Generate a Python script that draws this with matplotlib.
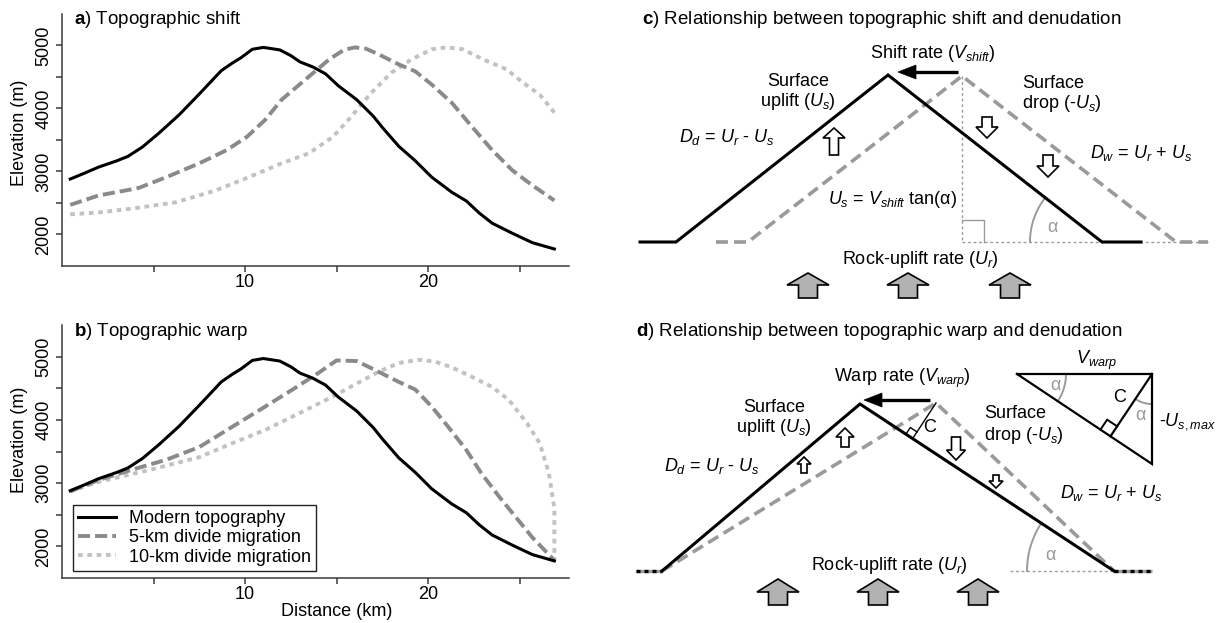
import numpy as np
import matplotlib
matplotlib.use("Agg")
import matplotlib.pyplot as plt
from matplotlib.patches import Polygon

plt.rcParams['font.family'] = ['Liberation Sans', 'DejaVu Sans']
plt.rcParams['mathtext.fontset'] = 'custom'
plt.rcParams['mathtext.rm'] = 'Liberation Sans'
plt.rcParams['mathtext.it'] = 'Liberation Sans:italic'
plt.rcParams['mathtext.bf'] = 'Liberation Sans:bold'
plt.rcParams['font.size'] = 13

# ---------------- elevation profiles (distance km, elevation m) ----------------
modern_km = [0.45, 1.2, 2.0, 3.0, 3.6, 4.4, 5.3, 6.4, 7.5, 8.7, 9.3, 9.8, 10.4, 11.0,
             11.9, 12.5, 13.0, 13.7, 14.4, 15.1, 16.1, 17.0, 17.5, 18.4, 19.3, 20.2,
             21.3, 22.1, 22.8, 23.5, 24.6, 25.7, 26.9]
modern_m = [2880, 2970, 3070, 3170, 3240, 3390, 3610, 3900, 4230, 4600, 4720, 4810,
            4940, 4970, 4930, 4840, 4740, 4660, 4550, 4360, 4140, 3880, 3700, 3400,
            3170, 2910, 2670, 2530, 2340, 2180, 2020, 1870, 1770]

shift5_km = [0.45, 2.0, 3.5, 4.2, 5.7, 7.5, 9.0, 10.1, 11.1, 12.0, 13.3, 14.6, 15.4,
             16.0, 16.6, 17.3, 18.4, 19.3, 20.2, 21.3, 22.4, 23.5, 24.6, 25.7, 26.9]
shift5_m = [2470, 2620, 2700, 2740, 2910, 3130, 3340, 3550, 3820, 4140, 4460, 4780,
            4930, 4970, 4950, 4860, 4700, 4590, 4380, 4090, 3710, 3340, 3020, 2780, 2540]

shift10_km = [0.45, 2.0, 3.8, 6.2, 8.4, 10.2, 12.0, 13.5, 14.8, 15.8, 16.9, 18.0, 19.1,
              20.2, 21.0, 21.9, 23.0, 24.3, 25.1, 26.1, 27.0]
shift10_m = [2320, 2350, 2410, 2510, 2700, 2910, 3130, 3290, 3550, 3870, 4250, 4570,
             4780, 4940, 4970, 4940, 4780, 4620, 4430, 4220, 3900]

warp5_km = [0.45, 2.0, 3.8, 5.7, 7.5, 9.3, 11.1, 12.6, 14.0, 15.0, 16.1, 17.3, 18.4,
            19.3, 20.2, 21.1, 22.1, 22.9, 23.9, 24.8, 25.7, 26.9]
warp5_m = [2870, 3050, 3210, 3370, 3570, 3890, 4210, 4480, 4740, 4940, 4930, 4760,
           4600, 4480, 4210, 3890, 3520, 3160, 2780, 2460, 2140, 1780]

warp10_km = [0.45, 2.0, 4.8, 7.5, 9.3, 11.1, 13.0, 14.8, 16.2, 17.3, 18.4, 19.5, 20.4,
             21.3, 22.4, 23.5, 24.4, 25.4, 26.1, 26.6, 26.9, 26.9]
warp10_m = [2870, 3020, 3210, 3410, 3630, 3840, 4110, 4370, 4590, 4760, 4900, 4950,
            4920, 4830, 4680, 4520, 4320, 3950, 3630, 3160, 2600, 1780]

legend_labels = ["Modern topography", "5-km divide migration", "10-km divide migration"]
x_major = [10, 20]
x_minor = [5, 15, 25]
y_major = [2000, 3000, 4000, 5000]
y_minor = [2500, 3500, 4500]

# ---------------- schematic ridge geometry (figure pixels, y downward) ----------------
# c) shift: modern ridge and ridge shifted towards the right
shift_modern_x = [640, 676, 888, 1102, 1141]
shift_modern_y = [242, 242, 75, 242, 242]
shift_old_x = [716, 748, 962, 1176, 1208]
shift_old_y = [242, 242, 76, 242, 242]
# d) warp: common base, divide warped towards the right
warp_modern_x = [662, 860, 1114]
warp_modern_y = [571, 404, 571]
warp_old_x = [662, 936, 1114]
warp_old_y = [571, 403, 571]
warp_flat_left = [636, 662]
warp_flat_right = [1114, 1152]
# d) inset triangle: V_warp leg, -U_s,max leg
inset_x = [1017, 1152, 1152]
inset_y = [374, 374, 464]

BLACK = '#000000'
MID = '#8a8a8a'
LIGHT = '#c2c2c2'
SPINE = '#3a3a3a'
DGREY = '#9a9a9a'
AGREY = '#b2b2b2'

W, H = 1227, 623
fig = plt.figure(figsize=(W / 100, H / 100), dpi=100)


def px_axes(left, top, right, bottom, **kw):
    return fig.add_axes([left / W, 1 - bottom / H, (right - left) / W, (bottom - top) / H], **kw)


def style_profile_axes(ax):
    ax.set_xlim(0, 27.7)
    ax.set_ylim(1500, 5500)
    for s in ['top', 'right']:
        ax.spines[s].set_visible(False)
    for s in ['left', 'bottom']:
        ax.spines[s].set_color(SPINE)
        ax.spines[s].set_linewidth(1.1)
    ax.set_xticks(x_major)
    ax.set_xticks(x_minor, minor=True)
    ax.set_yticks(y_major)
    ax.set_yticks(y_minor, minor=True)
    ax.tick_params(which='both', direction='out', length=4, width=1.1, color=SPINE)
    ax.tick_params(axis='x', pad=1.5, labelsize=13)
    ax.tick_params(axis='y', pad=3, labelsize=13)
    for lab in ax.get_yticklabels():
        lab.set_rotation(90)
        lab.set_va('center')
    ax.set_ylabel("Elevation (m)", fontsize=13)
    ax.patch.set_visible(False)


def draw_profiles(ax, series):
    lines = []
    lines += ax.plot(series[0][0], series[0][1], color=BLACK, lw=2.2, zorder=4)
    lines += ax.plot(series[1][0], series[1][1], color=MID, lw=2.8, dashes=(3.1, 1.3), zorder=3)
    lines += ax.plot(series[2][0], series[2][1], color=LIGHT, lw=2.8, dashes=(1.2, 1.2), zorder=2)
    return lines


ax_a = px_axes(62, 14, 569, 266)
draw_profiles(ax_a, [(modern_km, modern_m), (shift5_km, shift5_m), (shift10_km, shift10_m)])
style_profile_axes(ax_a)
ax_a.yaxis.set_label_coords(-0.068, 0.53)
ax_a.text(12 / 507, (266 - 19) / 252, r"$\mathbf{a}$) Topographic shift", transform=ax_a.transAxes,
          fontsize=13.5, va='center', ha='left')

ax_b = px_axes(62, 325, 569, 578)
handles = draw_profiles(ax_b, [(modern_km, modern_m), (warp5_km, warp5_m), (warp10_km, warp10_m)])
style_profile_axes(ax_b)
ax_b.yaxis.set_label_coords(-0.068, 0.545)
ax_b.set_xlabel("Distance (km)", fontsize=13)
ax_b.xaxis.set_label_coords(0.542, -0.098)
ax_b.text(12 / 507, (578 - 332) / 253, r"$\mathbf{b}$) Topographic warp", transform=ax_b.transAxes,
          fontsize=13.5, va='center', ha='left')
leg = ax_b.legend(handles, legend_labels, loc='lower left', bbox_to_anchor=(0.0217, 0.0277),
                  borderaxespad=0, fancybox=False, edgecolor='#222222', framealpha=1,
                  fontsize=13, handlelength=2.1, handletextpad=0.7, labelspacing=0.12,
                  borderpad=0.3)
leg.get_frame().set_linewidth(1.0)

# ---------------- schematic panels ----------------
ax_s = fig.add_axes([0, 0, 1, 1], zorder=0)
ax_s.set_xlim(0, W)
ax_s.set_ylim(H, 0)
ax_s.axis('off')


def block_arrow(ax, cx, y_tail, y_tip, head_w, shaft_w, head_len, face):
    d = 1 if y_tip > y_tail else -1
    y_neck = y_tip - d * head_len
    pts = [(cx - shaft_w / 2, y_tail), (cx - shaft_w / 2, y_neck), (cx - head_w / 2, y_neck),
           (cx, y_tip), (cx + head_w / 2, y_neck), (cx + shaft_w / 2, y_neck),
           (cx + shaft_w / 2, y_tail)]
    ax.add_patch(Polygon(pts, closed=True, facecolor=face, edgecolor='black', lw=1.2,
                         joinstyle='miter', zorder=5))


def rate_arrow(ax, x_tail, x_tip, y, head_len=18, head_w=14):
    d = np.sign(x_tip - x_tail)
    x_neck = x_tip - d * head_len
    ax.plot([x_tail, x_neck + d * 2], [y, y], color='black', lw=2.4, solid_capstyle='butt', zorder=6)
    ax.add_patch(Polygon([(x_tip, y), (x_neck, y - head_w / 2), (x_neck, y + head_w / 2)],
                         closed=True, fc='black', ec='black', lw=0.5, zorder=6))


def angle_arc(ax, cx, cy, r, a0, a1, **kw):
    t = np.radians(np.linspace(a0, a1, 50))
    ax.plot(cx + r * np.cos(t), cy - r * np.sin(t), **kw)


def right_angle(ax, corner, u, v, s, **kw):
    c = np.asarray(corner, float)
    u = np.asarray(u, float) / np.linalg.norm(u)
    v = np.asarray(v, float) / np.linalg.norm(v)
    pts = np.array([c + s * u, c + s * u + s * v, c + s * v])
    ax.plot(pts[:, 0], pts[:, 1], **kw)


def foot_of_perpendicular(p, a, b):
    p, a, b = (np.asarray(q, float) for q in (p, a, b))
    ab = b - a
    t = np.dot(p - a, ab) / np.dot(ab, ab)
    return a + t * ab


TXT = 13

# ---- c) topographic shift ----
ax_s.text(642, 20, r"$\mathbf{c}$) Relationship between topographic shift and denudation",
          fontsize=13.5, ha='left', va='center')
base_c = shift_modern_y[0]
ax_s.plot([shift_old_x[2], shift_old_x[2]], [shift_old_y[2], base_c], color=DGREY, lw=1.0,
          dashes=(2, 2), zorder=1)
ax_s.plot([shift_old_x[2], shift_old_x[-1]], [base_c, base_c], color=DGREY, lw=1.0,
          dashes=(2, 2), zorder=1)
right_angle(ax_s, (shift_old_x[2], base_c), (1, 0), (0, -1), 22, color=DGREY, lw=1.0, zorder=1)
ax_s.plot(shift_old_x, shift_old_y, color=DGREY, lw=2.6, dashes=(3.3, 1.7), zorder=2)
ax_s.plot(shift_modern_x, shift_modern_y, color=BLACK, lw=2.2, zorder=3,
          solid_joinstyle='miter')
slope_c = np.degrees(np.arctan2(shift_modern_y[3] - shift_modern_y[2],
                                shift_modern_x[3] - shift_modern_x[2]))
angle_arc(ax_s, shift_modern_x[3], base_c, 72, 180 - slope_c, 180, color=DGREY, lw=1.4, zorder=2)
ax_s.text(1052, 227, "α", color=DGREY, fontsize=TXT, ha='center', va='center')
rate_arrow(ax_s, 958, 898, 72)
ax_s.text(933, 53, r"Shift rate ($V_{shift}$)", fontsize=TXT, ha='center', va='center')
ax_s.text(798, 81, "Surface", fontsize=TXT, ha='center', va='center')
ax_s.text(798, 102, r"uplift ($U_s$)", fontsize=TXT, ha='center', va='center')
ax_s.text(1022, 83, "Surface", fontsize=TXT, ha='left', va='center')
ax_s.text(1022, 104, r"drop (-$U_s$)", fontsize=TXT, ha='left', va='center')
ax_s.text(727, 137, r"$D_d$ = $U_r$ - $U_s$", fontsize=TXT, ha='center', va='center')
ax_s.text(1141, 153, r"$D_w$ = $U_r$ + $U_s$", fontsize=TXT, ha='center', va='center')
ax_s.text(893, 200, r"$U_s$ = $V_{shift}$ tan(α)", fontsize=TXT, ha='center', va='center')
ax_s.text(920, 260, r"Rock-uplift rate ($U_r$)", fontsize=TXT, ha='center', va='center')
block_arrow(ax_s, 834, 155, 128, 22, 9, 10, 'white')
block_arrow(ax_s, 987, 117, 138, 22, 10, 11, 'white')
block_arrow(ax_s, 1048, 155, 177, 22, 10, 11, 'white')
for cx in (808, 908, 1010):
    block_arrow(ax_s, cx, 298, 273, 42, 19, 12, AGREY)

# ---- d) topographic warp ----
ax_s.text(636, 332, r"$\mathbf{d}$) Relationship between topographic warp and denudation",
          fontsize=13.5, ha='left', va='center')
base_d = warp_modern_y[0]
ax_s.plot([1010, warp_modern_x[2]], [base_d, base_d], color=DGREY, lw=1.0, dashes=(2, 2), zorder=1)
for seg in (warp_flat_left, warp_flat_right):
    ax_s.plot(seg, [base_d, base_d], color=DGREY, lw=2.4, solid_capstyle='butt', zorder=2)
    ax_s.plot(seg, [base_d, base_d], color=BLACK, lw=2.4, dashes=(1.2, 1.2), zorder=3)
ax_s.plot(warp_old_x, warp_old_y, color=DGREY, lw=2.6, dashes=(3.3, 1.7), zorder=2)
ax_s.plot(warp_modern_x, warp_modern_y, color=BLACK, lw=2.2, zorder=3, solid_joinstyle='miter')
slope_d = np.degrees(np.arctan2(warp_modern_y[2] - warp_modern_y[1],
                                warp_modern_x[2] - warp_modern_x[1]))
angle_arc(ax_s, warp_modern_x[2], base_d, 87, 180 - slope_d, 180, color=DGREY, lw=1.4, zorder=2)
ax_s.text(1050, 555, "α", color=DGREY, fontsize=TXT, ha='center', va='center')

peak_old = (warp_old_x[1], warp_old_y[1])
foot = foot_of_perpendicular(peak_old, (warp_modern_x[1], warp_modern_y[1]),
                             (warp_modern_x[2], warp_modern_y[2]))
ax_s.plot([peak_old[0], foot[0]], [peak_old[1], foot[1]], color=BLACK, lw=1.0, zorder=4)
right_angle(ax_s, foot, (warp_modern_x[1] - foot[0], warp_modern_y[1] - foot[1]),
            (peak_old[0] - foot[0], peak_old[1] - foot[1]), 8, color=BLACK, lw=1.0, zorder=4)
ax_s.text(930, 427, "C", fontsize=TXT, ha='center', va='center')

rate_arrow(ax_s, 930, 864, 400)
ax_s.text(902, 378, r"Warp rate ($V_{warp}$)", fontsize=TXT, ha='center', va='center')
ax_s.text(774, 407, "Surface", fontsize=TXT, ha='center', va='center')
ax_s.text(774, 428, r"uplift ($U_s$)", fontsize=TXT, ha='center', va='center')
ax_s.text(984, 414, "Surface", fontsize=TXT, ha='left', va='center')
ax_s.text(984, 435, r"drop (-$U_s$)", fontsize=TXT, ha='left', va='center')
ax_s.text(712, 466, r"$D_d$ = $U_r$ - $U_s$", fontsize=TXT, ha='center', va='center')
ax_s.text(1111, 493, r"$D_w$ = $U_r$ + $U_s$", fontsize=TXT, ha='center', va='center')
ax_s.text(889, 565, r"Rock-uplift rate ($U_r$)", fontsize=TXT, ha='center', va='center')
block_arrow(ax_s, 845, 447, 428, 18, 8, 9, 'white')
block_arrow(ax_s, 804, 473, 457, 14, 6, 7, 'white')
block_arrow(ax_s, 956, 437, 460, 19, 9, 10, 'white')
block_arrow(ax_s, 996, 475, 488, 14, 6, 7, 'white')
for cx in (778, 878, 978):
    block_arrow(ax_s, cx, 605, 579, 42, 19, 13, AGREY)

# inset triangle relating warp rate, C and the maximum surface drop
tri = np.column_stack([inset_x + [inset_x[0]], inset_y + [inset_y[0]]])
ax_s.plot(tri[:, 0], tri[:, 1], color=BLACK, lw=1.6, zorder=4, solid_joinstyle='miter')
tl = (inset_x[0], inset_y[0])
tr = (inset_x[1], inset_y[1])
bt = (inset_x[2], inset_y[2])
foot_i = foot_of_perpendicular(tr, tl, bt)
ax_s.plot([tr[0], foot_i[0]], [tr[1], foot_i[1]], color=BLACK, lw=1.6, zorder=4)
right_angle(ax_s, foot_i, (tl[0] - foot_i[0], tl[1] - foot_i[1]),
            (tr[0] - foot_i[0], tr[1] - foot_i[1]), 12, color=BLACK, lw=1.4, zorder=4)
alpha_i = np.degrees(np.arctan2(bt[1] - tl[1], bt[0] - tl[0]))
angle_arc(ax_s, tl[0], tl[1], 49, -alpha_i, 0, color=DGREY, lw=1.4, zorder=3)
dir_c = np.degrees(np.arctan2(-(foot_i[1] - tr[1]), foot_i[0] - tr[0]))
angle_arc(ax_s, tr[0], tr[1], 30, dir_c, -90, color=DGREY, lw=1.4, zorder=3)
ax_s.text(1055, 385, "α", color=DGREY, fontsize=TXT, ha='center', va='center')
ax_s.text(1140, 415, "α", color=DGREY, fontsize=TXT, ha='center', va='center')
ax_s.text(1120, 397, "C", fontsize=TXT, ha='center', va='center')
ax_s.text(1096, 360, r"$V_{warp}$", fontsize=TXT, ha='center', va='center')
ax_s.text(1159, 422, r"-$U_{s,max}$", fontsize=TXT, ha='left', va='center')

fig.savefig("out.png", dpi=100)
